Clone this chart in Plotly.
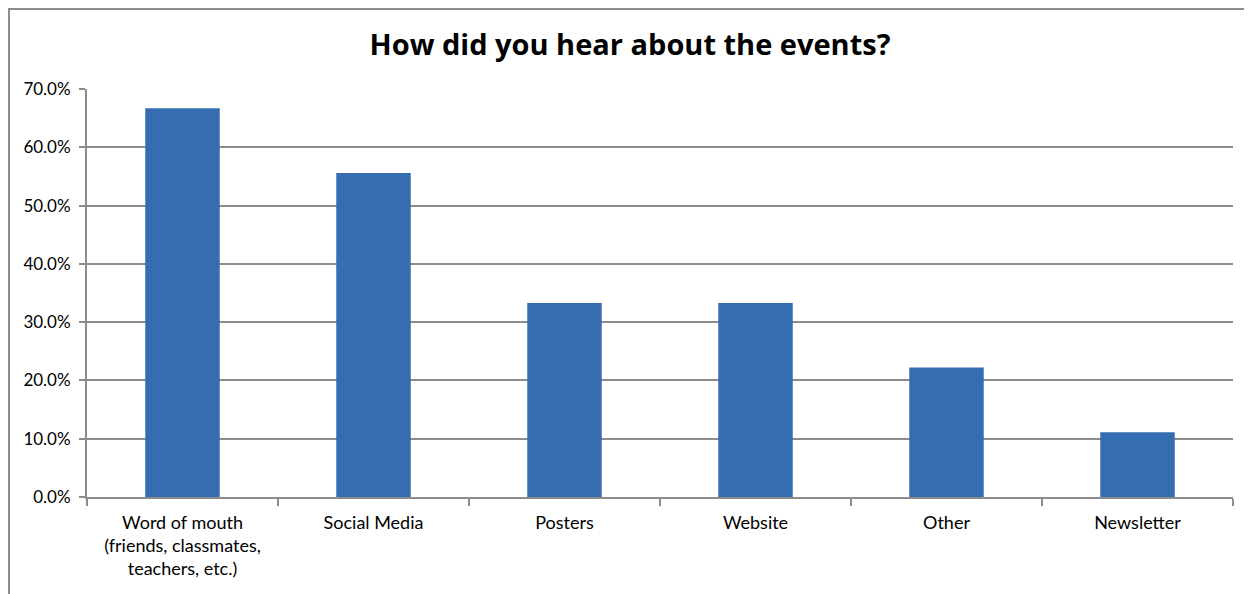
import plotly.graph_objects as go

categories = ["Word of mouth<br>(friends, classmates,<br>teachers, etc.)", "Social Media", "Posters", "Website", "Other", "Newsletter"]
values = [0.667, 0.556, 0.333, 0.333, 0.222, 0.111]
y_ticks = [0.0, 0.1, 0.2, 0.3, 0.4, 0.5, 0.6, 0.7]

# page body has 8px margin; figure placed at (8, 8)
W, H = 1244, 586
ml, mr, mt, mb = 79, 19, 81, 97
pw, ph = W - ml - mr, H - mt - mb

fig = go.Figure()
fig.add_trace(go.Bar(
    x=categories, y=values,
    marker=dict(color="#366DB0", line=dict(width=0)),
    width=0.39,
))

grid = "#8C8C8C"
fig.update_layout(
    width=W, height=H,
    margin=dict(l=ml, r=mr, t=mt, b=mb),
    paper_bgcolor="white", plot_bgcolor="white",
    showlegend=False,
    font=dict(family="Lato, 'Open Sans', sans-serif", size=17, color="#000"),
    title=dict(text="<b>How did you hear about the events?</b>", x=0.5, xanchor="center",
               y=1 - 37 / H, yanchor="middle", font=dict(size=29, family="'Open Sans', Lato, sans-serif")),
    xaxis=dict(showline=True, linecolor=grid, linewidth=2, ticks="outside", tickson="boundaries",
               ticklen=7, tickcolor=grid, tickwidth=2, showgrid=False, fixedrange=True,
               tickfont=dict(size=18), ticklabelstandoff=8),
    yaxis=dict(range=[0, 0.7], tickvals=y_ticks, tickformat=".1%", showline=True, linecolor=grid,
               linewidth=2, ticks="outside", ticklen=6, tickcolor=grid, tickwidth=2,
               showgrid=True, gridcolor=grid, gridwidth=1.5, zeroline=False, fixedrange=True,
               tickfont=dict(size=17), ticklabelstandoff=5),
    shapes=[dict(type="path", xref="paper", yref="paper",
                 path=f"M {(1-ml)/pw},{-0.5} L {(1-ml)/pw},{1+(mt-1)/ph} L {1.2},{1+(mt-1)/ph}",
                 line=dict(color="#8C8C8C", width=2))],
)

fig.write_html("out.html")
